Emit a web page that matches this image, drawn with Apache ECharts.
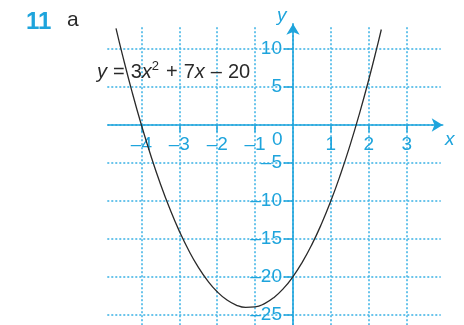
<!DOCTYPE html>
<html><head><meta charset="utf-8">
<script src="https://cdn.jsdelivr.net/npm/echarts@6/dist/echarts.min.js"></script>
<style>html,body{margin:0;padding:0;background:#fff}#c{width:464px;height:325px}</style>
</head><body><div id="c"></div>
<script>
// ---- data ----
const curveX = [-4.67, -4.5, -4.25, -4, -3.75, -3.5, -3.25, -3, -2.75, -2.5, -2.25, -2, -1.75, -1.5, -1.25, -1, -0.75, -0.5, -0.25, 0, 0.25, 0.5, 0.75, 1, 1.25, 1.5, 1.75, 2, 2.25, 2.33];
const curveY = [12.74, 9.25, 4.44, 0, -4.06, -7.75, -11.06, -14, -16.56, -18.75, -20.56, -22, -23.06, -23.75, -24.06, -24, -23.56, -22.75, -21.56, -20, -18.06, -15.75, -13.06, -10, -6.56, -2.75, 1.44, 6, 10.94, 12.6];
const xTickValues = [-4, -3, -2, -1, 1, 2, 3];
const yTickValues = [-25, -20, -15, -10, -5, 5, 10];
const xGridRange = [-5, 4];
const yGridRange = [-30, 15];
const equationText = '{i|y}{o|=}3{i|x}{s|2}{o|+}7{i|x}{o|\u2013}20';

// ---- layout ----
const OX = 293, OY = 125, UX = 37.9, UY = 7.58;
const CY = '#1ea4dc', GRID = '#45b6e6', INK = '#2a2a2a';
const FONT = '"Liberation Sans", Arial, sans-serif';
function rect(x0, x1, y0, y1) {
  return { left: OX + x0 * UX, top: OY - y1 * UY, width: (x1 - x0) * UX, height: (y1 - y0) * UY,
           containLabel: false, outerBoundsMode: 'none', show: false };
}
const fmt = v => (v < 0 ? '\u2013' : '') + Math.abs(v);
const hidden = { axisLine: { show: false }, axisTick: { show: false }, axisLabel: { show: false }, splitLine: { show: false } };

const chart = echarts.init(document.getElementById('c'), null, { renderer: 'canvas' });
chart.setOption({
  animation: false,
  backgroundColor: '#fff',
  grid: [
    rect(xGridRange[0], xGridRange[1], yGridRange[0], yGridRange[1]), // 0: curve + tick labels
    rect(xGridRange[0], xGridRange[1], -26.4, 12.9),                  // 1: vertical grid lines
    rect(-4.9, 3.9, yGridRange[0], yGridRange[1]),                    // 2: horizontal grid lines
    rect(-4.88, 3.95, -26.4, 13.35)                                   // 3: axis lines with arrows
  ],
  xAxis: [
    { gridIndex: 0, type: 'value', min: xGridRange[0], max: xGridRange[1], position: 'bottom',
      offset: -(0 - yGridRange[0]) * UY,
      axisLine: { show: false, onZero: false },
      axisTick: { show: true, customValues: xTickValues, length: 7, lineStyle: { color: CY, width: 1.5 } },
      axisLabel: { customValues: xTickValues, formatter: fmt, color: CY, fontSize: 19, fontFamily: FONT, margin: 10 },
      splitLine: { show: false } },
    Object.assign({ gridIndex: 1, type: 'value', min: xGridRange[0], max: xGridRange[1], interval: 1 }, hidden,
      { splitLine: { show: true, showMinLine: false, showMaxLine: false, lineStyle: { color: GRID, type: [2, 2], width: 1.6 } } }),
    Object.assign({ gridIndex: 2, type: 'value', min: -4.9, max: 3.9 }, hidden),
    Object.assign({ gridIndex: 3, type: 'value', min: -4.88, max: 3.95 }, hidden,
      { axisLine: { show: true, onZero: true, symbol: ['none', 'arrow'], symbolSize: [10, 11], lineStyle: { color: CY, width: 1.6 } } })
  ],
  yAxis: [
    { gridIndex: 0, type: 'value', min: yGridRange[0], max: yGridRange[1], position: 'left',
      offset: -(0 - xGridRange[0]) * UX,
      axisLine: { show: false, onZero: false },
      axisTick: { show: true, customValues: yTickValues, length: 9, lineStyle: { color: CY, width: 1.5 } },
      axisLabel: { customValues: yTickValues, formatter: fmt, color: CY, fontSize: 19, fontFamily: FONT, margin: 11 },
      splitLine: { show: false } },
    Object.assign({ gridIndex: 1, type: 'value', min: -26.4, max: 12.9 }, hidden),
    Object.assign({ gridIndex: 2, type: 'value', min: yGridRange[0], max: yGridRange[1], interval: 5 }, hidden,
      { splitLine: { show: true, showMinLine: false, showMaxLine: false, lineStyle: { color: GRID, type: [2, 2], width: 1.6 } } }),
    Object.assign({ gridIndex: 3, type: 'value', min: -26.4, max: 13.35 }, hidden,
      { axisLine: { show: true, onZero: true, symbol: ['none', 'arrow'], symbolSize: [10, 11], lineStyle: { color: CY, width: 1.6 } } })
  ],
  series: [{
    type: 'line', xAxisIndex: 0, yAxisIndex: 0, smooth: true, showSymbol: false, z: 5,
    lineStyle: { color: INK, width: 1.3 },
    data: curveX.map((x, i) => [x, curveY[i]])
  }],
  graphic: [
    { type: 'text', left: 26, top: 10, style: { text: '11', fill: CY, font: 'bold 24px ' + FONT } },
    { type: 'text', left: 67, top: 10, style: { text: 'a', fill: INK, font: '21px ' + FONT } },
    { type: 'text', left: 97, top: 60, z: 10, style: {
        text: equationText, fill: INK, font: '20px ' + FONT,
        rich: {
          i: { fontStyle: 'italic', fontSize: 20, fontFamily: FONT, fill: INK },
          o: { fontSize: 20, fontFamily: FONT, fill: INK, padding: [0, 6, 0, 6] },
          s: { fontSize: 13, fontFamily: FONT, fill: INK, verticalAlign: 'bottom', padding: [0, 1, 11, 0] }
        } } },
    { type: 'text', x: OX - 16, y: 6, style: { text: 'y', fill: CY, font: 'italic 19px ' + FONT } },
    { type: 'text', x: OX + 152, y: 130, style: { text: 'x', fill: CY, font: 'italic 19px ' + FONT } },
    { type: 'text', x: OX - 21, y: OY + 5, style: { text: '0', fill: CY, font: '19px ' + FONT } }
  ]
});
</script>
</body></html>
